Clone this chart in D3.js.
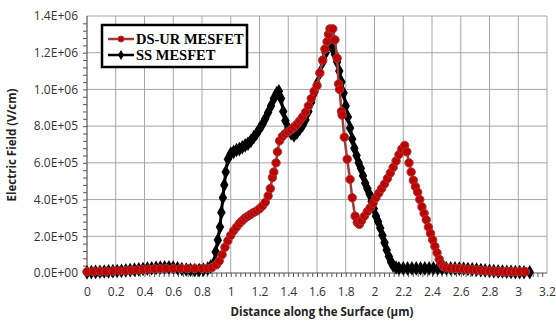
<!DOCTYPE html>
<html>
<head>
<meta charset="utf-8">
<script src="https://cdn.jsdelivr.net/npm/d3@7"></script>
<style>
  body { margin: 0; background: #fff; }
  .tick text { font-family: "Open Sans", sans-serif; font-size: 12px; fill: #333; }
</style>
</head>
<body>
<div id="chart"></div>
<script>
window.document.addEventListener('DOMContentLoaded', () => {

  var width = 556;
  var height = 322;

  // tick labels
  var xTicks = [0, 0.2, 0.4, 0.6, 0.8, 1, 1.2, 1.4, 1.6, 1.8, 2, 2.2, 2.4, 2.6, 2.8, 3, 3.2];
  var yTicks = [0, 2e5, 4e5, 6e5, 8e5, 1e6, 1.2e6, 1.4e6];
  var seriesNames = ["DS-UR MESFET", "SS MESFET"];

  // DS-UR MESFET, [distance um, field V/cm]
  var dsur = [[0,7e3],[0.045,8e3],[0.09,9e3],[0.135,1e4],[0.18,1.1e4],[0.225,1.2e4],[0.27,1.3e4],[0.31,1.5e4],
    [0.35,1.7e4],[0.39,1.9e4],[0.43,2.1e4],[0.47,2.3e4],[0.51,2.4e4],[0.55,2.5e4],[0.6,2.5e4],[0.65,2.5e4],
    [0.7,2.4e4],[0.75,2.4e4],[0.8,2.4e4],[0.84,2.5e4],[0.87,3.0e4],[0.9,4.5e4],[0.92,6.5e4],[0.94,1.0e5],
    [0.96,1.4e5],[0.98,1.75e5],[1.0,2.05e5],[1.02,2.3e5],[1.04,2.5e5],[1.06,2.7e5],[1.08,2.85e5],[1.10,3.0e5],
    [1.12,3.1e5],[1.14,3.2e5],[1.16,3.3e5],[1.18,3.38e5],[1.20,3.5e5],[1.22,3.65e5],[1.24,3.85e5],[1.26,4.2e5],
    [1.275,4.6e5],[1.29,5.2e5],[1.3,5.5e5],[1.315,6.0e5],[1.325,6.6e5],[1.34,7.2e5],[1.36,7.45e5],[1.38,7.6e5],
    [1.40,7.7e5],[1.42,7.8e5],[1.44,7.95e5],[1.46,8.1e5],[1.48,8.3e5],[1.50,8.5e5],[1.52,8.75e5],[1.54,9.1e5],
    [1.56,9.5e5],[1.58,9.9e5],[1.60,1.02e6],[1.62,1.09e6],[1.64,1.16e6],[1.655,1.22e6],[1.67,1.26e6],[1.68,1.3e6],
    [1.69,1.33e6],[1.71,1.33e6],[1.725,1.27e6],[1.74,1.17e6],[1.75,1.03e6],[1.757,1.0e6],[1.77,8.8e5],[1.775,8.6e5],
    [1.79,7.4e5],[1.81,6.2e5],[1.83,5.1e5],[1.845,4.1e5],[1.865,3.1e5],[1.88,2.75e5],[1.895,2.65e5],[1.91,2.85e5],
    [1.93,3.1e5],[1.95,3.35e5],[1.97,3.55e5],[1.99,3.8e5],[2.01,4.1e5],[2.03,4.35e5],[2.05,4.6e5],[2.07,4.85e5],
    [2.09,5.15e5],[2.11,5.45e5],[2.13,5.75e5],[2.15,6.1e5],[2.17,6.45e5],[2.19,6.75e5],[2.21,6.95e5],[2.225,6.6e5],
    [2.24,6.0e5],[2.255,5.5e5],[2.27,5.05e5],[2.285,4.7e5],[2.30,4.4e5],[2.315,4.0e5],[2.33,3.6e5],[2.345,3.25e5],
    [2.36,2.9e5],[2.375,2.5e5],[2.39,2.15e5],[2.405,1.8e5],[2.42,1.45e5],[2.435,1.1e5],[2.45,7.5e4],[2.465,5e4],
    [2.48,3.5e4],[2.50,2.8e4],[2.53,2.6e4],[2.56,2.5e4],[2.59,2.4e4],[2.62,2.2e4],[2.65,2.0e4],[2.68,1.8e4],
    [2.71,1.6e4],[2.74,1.4e4],[2.77,1.2e4],[2.80,1.05e4],[2.83,9e3],[2.86,8e3],[2.89,7e3],[2.92,7e3],[2.95,7e3],
    [2.98,7e3],[3.01,7e3],[3.05,7e3]];

  // SS MESFET
  var ss = [[0,3e3],[0.03,5e3],[0.06,6e3],[0.09,7e3],[0.12,8e3],[0.15,9e3],[0.18,1e4],[0.21,1.1e4],[0.24,1.2e4],
    [0.27,1.4e4],[0.30,1.6e4],[0.33,1.8e4],[0.36,2e4],[0.39,2.2e4],[0.42,2.4e4],[0.45,2.6e4],[0.48,2.8e4],[0.51,3e4],
    [0.54,3.1e4],[0.57,3.1e4],[0.60,3e4],[0.63,2.6e4],[0.66,2.2e4],[0.69,1.9e4],[0.72,1.7e4],[0.75,1.6e4],[0.78,1.6e4],
    [0.81,1.8e4],[0.84,2.4e4],[0.86,3.5e4],[0.88,5e4],[0.895,1.15e5],[0.91,1.8e5],[0.925,2.5e5],[0.935,3.3e5],
    [0.945,4.1e5],[0.955,4.8e5],[0.965,5.5e5],[0.98,6.2e5],[1.0,6.5e5],[1.02,6.6e5],[1.04,6.7e5],[1.06,6.75e5],
    [1.08,6.85e5],[1.10,6.95e5],[1.12,7.05e5],[1.14,7.2e5],[1.16,7.4e5],[1.18,7.6e5],[1.20,7.85e5],[1.22,8.1e5],
    [1.24,8.4e5],[1.26,8.75e5],[1.28,9.1e5],[1.30,9.5e5],[1.32,9.8e5],[1.335,9.9e5],[1.35,9.5e5],[1.365,8.8e5],
    [1.38,8.3e5],[1.40,7.9e5],[1.42,7.6e5],[1.44,7.5e5],[1.46,7.65e5],[1.48,7.85e5],[1.50,8.05e5],[1.52,8.35e5],
    [1.54,8.8e5],[1.56,9.3e5],[1.58,9.8e5],[1.60,1.03e6],[1.62,1.09e6],[1.64,1.15e6],[1.66,1.2e6],[1.68,1.24e6],
    [1.695,1.25e6],[1.71,1.22e6],[1.725,1.19e6],[1.74,1.15e6],[1.755,1.1e6],[1.77,1.04e6],[1.785,9.8e5],[1.80,9.1e5],
    [1.815,8.5e5],[1.83,7.9e5],[1.845,7.3e5],[1.86,6.8e5],[1.875,6.4e5],[1.89,6.0e5],[1.905,5.7e5],[1.92,5.3e5],
    [1.935,4.9e5],[1.95,4.6e5],[1.965,4.3e5],[1.98,3.9e5],[1.995,3.5e5],[2.01,3.1e5],[2.025,2.8e5],[2.04,2.45e5],
    [2.055,2.05e5],[2.07,1.65e5],[2.085,1.25e5],[2.10,9e4],[2.115,6e4],[2.13,4e4],[2.15,3e4],[2.17,2.6e4],[2.2,2.5e4],
    [2.23,2.5e4],[2.26,2.5e4],[2.29,2.5e4],[2.32,2.5e4],[2.35,2.5e4],[2.38,2.5e4],[2.41,2.5e4],[2.44,2.5e4],
    [2.47,2.5e4],[2.5,2.5e4],[2.53,2.5e4],[2.56,2.5e4],[2.59,2.4e4],[2.62,2.3e4],[2.65,2.2e4],[2.68,2e4],[2.71,1.8e4],
    [2.74,1.6e4],[2.77,1.4e4],[2.80,1.2e4],[2.83,1e4],[2.86,9e3],[2.89,8e3],[2.92,7e3],[2.95,6e3],[2.98,5e3],
    [3.01,5e3],[3.04,4e3],[3.08,4e3]];

  var m = { left: 87, right: 9, top: 16, bottom: 49 };

  var svg = d3.select("#chart")
    .append("svg")
    .attr("width", width)
    .attr("height", height);

  var x = d3.scaleLinear().domain([0, 3.2]).range([m.left, width - m.right]);
  var y = d3.scaleLinear().domain([0, 1.4e6]).range([height - m.bottom, m.top]);

  //grid
  svg.append("g")
    .selectAll("line.vg")
    .data(xTicks.slice(1))
    .enter().append("line")
    .attr("x1", d => x(d)).attr("x2", d => x(d))
    .attr("y1", y(0)).attr("y2", y(1.4e6))
    .style("stroke", "#a6a6a6").style("stroke-width", 1);
  svg.append("g")
    .selectAll("line.hg")
    .data(yTicks.slice(1))
    .enter().append("line")
    .attr("x1", x(0)).attr("x2", x(3.2))
    .attr("y1", d => y(d)).attr("y2", d => y(d))
    .style("stroke", "#a6a6a6").style("stroke-width", 1);

  //minor ticks
  var xMinor = d3.range(0, 96).map(i => i * 3.2 / 96);
  var yMinor = d3.range(0, 35).map(i => i * 4e4);

  var xAxis = svg.append("g")
    .attr("transform", "translate(0," + y(0) + ")")
    .call(d3.axisBottom(x).tickValues(xMinor).tickSize(4).tickFormat(""));
  xAxis.select(".domain").remove();
  xAxis.selectAll("line").style("stroke", "#555");

  var xLab = svg.append("g")
    .attr("transform", "translate(0," + y(0) + ")")
    .call(d3.axisBottom(x).tickValues(xTicks).tickSize(0).tickPadding(14).tickFormat(d3.format("")));
  xLab.select(".domain").remove();

  var yAxis = svg.append("g")
    .attr("transform", "translate(" + x(0) + ",0)")
    .call(d3.axisLeft(y).tickValues(yMinor).tickSize(4).tickFormat(""));
  yAxis.select(".domain").remove();
  yAxis.selectAll("line").style("stroke", "#555");

  var yLab = svg.append("g")
    .attr("transform", "translate(" + x(0) + ",0)")
    .call(d3.axisLeft(y).tickValues(yTicks).tickSize(0).tickPadding(9)
      .tickFormat(d => {
        var s = d.toExponential(1).split("e");
        var e = +s[1];
        return s[0] + "E+" + (e < 10 ? "0" + e : e);
      }));
  yLab.select(".domain").remove();

  // axis lines
  svg.append("line")
    .attr("x1", x(0)).attr("x2", x(3.2)).attr("y1", y(0)).attr("y2", y(0))
    .style("stroke", "#555").style("stroke-width", 1.2);
  svg.append("line")
    .attr("x1", x(0)).attr("x2", x(0)).attr("y1", y(0)).attr("y2", y(1.4e6))
    .style("stroke", "#555").style("stroke-width", 1.2);

  var line = d3.line().x(d => x(d[0])).y(d => y(d[1]));

  //SS MESFET (black, diamonds)
  svg.append("path")
    .datum(ss)
    .attr("d", line)
    .style("fill", "none").style("stroke", "#000").style("stroke-width", 3);
  svg.append("g")
    .selectAll("path")
    .data(ss)
    .enter().append("path")
    .attr("d", d3.symbol(d3.symbolDiamond, 62))
    .attr("transform", d => "translate(" + x(d[0]) + "," + y(d[1]) + ")")
    .style("fill", "#000");

  //DS-UR MESFET (red, circles)
  svg.append("path")
    .datum(dsur)
    .attr("d", line)
    .style("fill", "none").style("stroke", "#a33a3a").style("stroke-width", 2.5);
  svg.append("g")
    .selectAll("circle")
    .data(dsur)
    .enter().append("circle")
    .attr("cx", d => x(d[0]))
    .attr("cy", d => y(d[1]))
    .attr("r", 4.2)
    .style("fill", "#c00000")
    .style("stroke", "#a33a3a")
    .style("stroke-width", 1);

  //legend
  var lg = svg.append("g");
  lg.append("rect")
    .attr("x", 102).attr("y", 25).attr("width", 145).attr("height", 42)
    .style("fill", "#fff").style("stroke", "#000").style("stroke-width", 2.5);
  seriesNames.forEach(function (name, i) {
    var ly = 39 + i * 16;
    lg.append("line")
      .attr("x1", 108).attr("x2", 134).attr("y1", ly).attr("y2", ly)
      .style("stroke", i == 0 ? "#a33a3a" : "#000").style("stroke-width", 2.5);
    if (i == 0) {
      lg.append("circle").attr("cx", 121).attr("cy", ly).attr("r", 3)
        .style("fill", "#c00000").style("stroke", "#a33a3a");
    } else {
      lg.append("path").attr("d", d3.symbol(d3.symbolDiamond, 30))
        .attr("transform", "translate(121," + ly + ")").style("fill", "#000");
    }
    lg.append("text")
      .attr("x", 136).attr("y", ly + 5)
      .style("font-family", "'Liberation Serif', serif")
      .style("font-weight", "bold")
      .style("font-size", "14.5px")
      .text(name);
  });

  //axis titles
  svg.append("text")
    .attr("text-anchor", "middle")
    .attr("x", 322).attr("y", 316)
    .style("font-family", "'Open Sans', sans-serif")
    .style("font-weight", "bold")
    .style("font-size", "11.5px")
    .style("fill", "#222")
    .text("Distance along the Surface (\u00b5m)");
  svg.append("text")
    .attr("text-anchor", "middle")
    .attr("transform", "translate(16,145) rotate(-90)")
    .style("font-family", "'Open Sans', sans-serif")
    .style("font-weight", "bold")
    .style("font-size", "11.5px")
    .style("fill", "#222")
    .text("Electric Field (V/cm)");
});
</script>
</body>
</html>
